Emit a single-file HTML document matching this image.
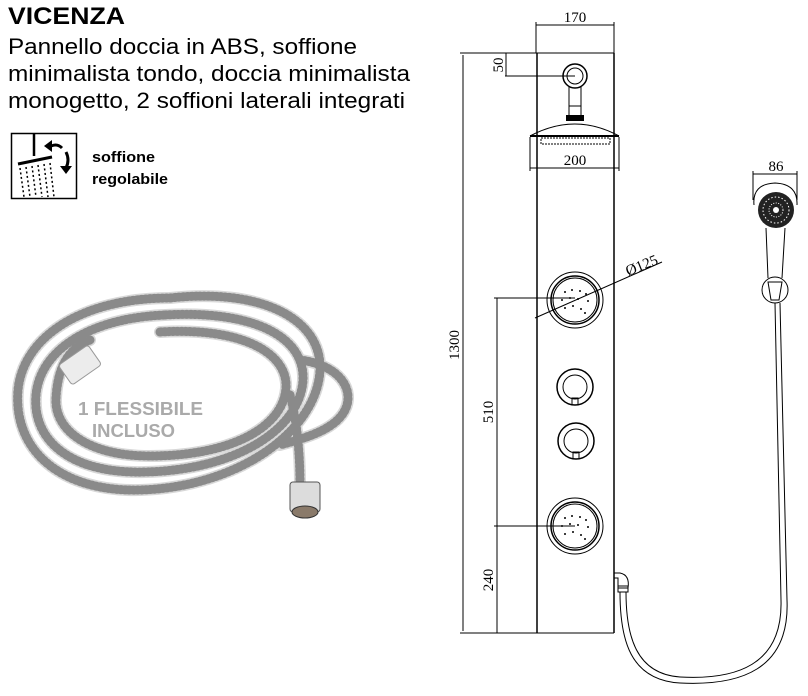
<!DOCTYPE html>
<html><head><meta charset="utf-8"><style>
html,body{margin:0;padding:0;background:#fff;width:808px;height:696px;overflow:hidden}
svg{display:block}
.t{font-family:"Liberation Sans",Arial,sans-serif}
.s{font-family:"Liberation Serif","Times New Roman",serif;font-size:15px}
</style></head><body>
<svg width="808" height="696" viewBox="0 0 808 696" xmlns="http://www.w3.org/2000/svg">
<text class="t" x="8" y="24" font-size="24" font-weight="bold" textLength="117" lengthAdjust="spacingAndGlyphs">VICENZA</text>
<text class="t" x="8" y="54" font-size="22" textLength="349" lengthAdjust="spacingAndGlyphs">Pannello doccia in ABS, soffione</text>
<text class="t" x="8" y="81" font-size="22" textLength="402" lengthAdjust="spacingAndGlyphs">minimalista tondo, doccia minimalista</text>
<text class="t" x="8" y="108" font-size="22" textLength="397" lengthAdjust="spacingAndGlyphs">monogetto, 2 soffioni laterali integrati</text>
<rect x="11.5" y="133.5" width="65" height="65" fill="none" stroke="#000" stroke-width="1.5"/>
<line x1="34" y1="134" x2="34" y2="156" stroke="#000" stroke-width="2.5"/>
<line x1="18" y1="164" x2="52" y2="157" stroke="#000" stroke-width="3"/>
<g stroke="#000" stroke-width="1.5" stroke-dasharray="2 2.5">
<line x1="20" y1="168" x2="24" y2="197"/><line x1="26" y1="167" x2="30" y2="197"/>
<line x1="32" y1="166" x2="36" y2="197"/><line x1="38" y1="165" x2="42" y2="197"/>
<line x1="44" y1="164" x2="48" y2="197"/><line x1="50" y1="163" x2="54" y2="197"/>
</g>
<path d="M48 148 Q56 142 62 148" fill="none" stroke="#000" stroke-width="3"/>
<polygon points="44,146 52,140 52,152" fill="#000"/>
<path d="M66 152 Q70 160 66 168" fill="none" stroke="#000" stroke-width="3"/>
<polygon points="60,166 72,166 66,174" fill="#000"/>
<text class="t" x="92" y="162" font-size="15" font-weight="bold" textLength="63" lengthAdjust="spacingAndGlyphs">soffione</text>
<text class="t" x="92" y="184" font-size="15" font-weight="bold" textLength="76" lengthAdjust="spacingAndGlyphs">regolabile</text>
<g fill="none" stroke-linecap="round">
<g stroke="#d8d8d8" stroke-width="12">
<path d="M170 298 C260 288 322 318 320 370 C317 430 240 487 140 490 C60 492 13 450 18 390 C23 338 80 298 170 298"/>
<path d="M165 315 C250 310 305 335 303 380 C300 430 235 470 145 472 C70 474 32 440 36 395 C40 350 90 318 165 315"/>
<path d="M160 332 C240 327 288 352 286 388 C283 428 230 456 150 456 C88 456 54 430 56 398 C58 362 72 347 90 340"/>
<path d="M300 360 C340 365 355 390 345 410 C335 430 305 438 280 445"/>
<path d="M290 395 C298 425 300 460 300 485"/>
</g>
<g stroke="#8a8a8a" stroke-width="9" stroke-dasharray="1.2 3">
<path d="M170 298 C260 288 322 318 320 370 C317 430 240 487 140 490 C60 492 13 450 18 390 C23 338 80 298 170 298"/>
<path d="M165 315 C250 310 305 335 303 380 C300 430 235 470 145 472 C70 474 32 440 36 395 C40 350 90 318 165 315"/>
<path d="M160 332 C240 327 288 352 286 388 C283 428 230 456 150 456 C88 456 54 430 56 398 C58 362 72 347 90 340"/>
<path d="M300 360 C340 365 355 390 345 410 C335 430 305 438 280 445"/>
<path d="M290 395 C298 425 300 460 300 485"/>
</g>
</g>
<rect x="62" y="353" width="36" height="24" rx="3" fill="#ececec" stroke="#999" transform="rotate(-35 80 365)"/>
<rect x="290" y="482" width="30" height="30" rx="3" fill="#dcdcdc" stroke="#555"/>
<ellipse cx="305" cy="512" rx="13" ry="6" fill="#8a7a6a" stroke="#333"/>
<text class="t" x="78" y="415" font-size="18" font-weight="bold" fill="#aaa" textLength="125" lengthAdjust="spacingAndGlyphs">1 FLESSIBILE</text>
<text class="t" x="92" y="437" font-size="18" font-weight="bold" fill="#aaa" textLength="83" lengthAdjust="spacingAndGlyphs">INCLUSO</text>

<g stroke="#000" fill="none" stroke-width="1">
<line x1="537" y1="53" x2="537" y2="633" stroke-width="1.5"/>
<line x1="614" y1="53" x2="614" y2="633" stroke-width="1.5"/>
<line x1="460" y1="53" x2="614" y2="53"/>
<line x1="460" y1="633" x2="614" y2="633"/>
<line x1="536" y1="22" x2="536" y2="53"/><line x1="614" y1="22" x2="614" y2="53"/>
<line x1="536" y1="25" x2="614" y2="25"/>
<line x1="463" y1="55" x2="463" y2="631"/>
<line x1="506" y1="53" x2="506" y2="76"/>
<line x1="505" y1="76" x2="575" y2="76"/>
<circle cx="575" cy="76" r="12" stroke-width="1.5"/>
<circle cx="575" cy="76" r="8"/>
<path d="M569 86 V115 M581 86 V115 M569 106 H581"/>
<path d="M530 136 Q575 112 619 136"/>
<line x1="530" y1="136" x2="619" y2="136" stroke-width="2"/>
<rect x="541" y="138" width="69" height="6" stroke-dasharray="2 1"/>
<line x1="530" y1="137" x2="530" y2="171"/><line x1="619" y1="137" x2="619" y2="171"/>
<line x1="530" y1="168" x2="619" y2="168"/>
<circle cx="575" cy="300" r="28"/><circle cx="575" cy="300" r="24" stroke-width="1.5"/><circle cx="575" cy="300" r="22"/>
<line x1="535" y1="318" x2="662" y2="262"/>
<line x1="494" y1="298" x2="575" y2="298"/>
<line x1="497" y1="298" x2="497" y2="633"/>
<circle cx="575" cy="387" r="18" stroke-width="1.5"/><circle cx="575" cy="387" r="12"/>
<rect x="572" y="398" width="6" height="7"/>
<circle cx="576" cy="441" r="18" stroke-width="1.5"/><circle cx="576" cy="441" r="12"/>
<rect x="573" y="452" width="6" height="7"/>
<circle cx="575" cy="526" r="28"/><circle cx="575" cy="526" r="24" stroke-width="1.5"/><circle cx="575" cy="526" r="22"/>
<line x1="494" y1="526" x2="575" y2="526"/>
<path d="M614 573 H620 Q630 575 628 588 H618 V578 H614" />
<rect x="618" y="586" width="10" height="6"/>
<path d="M620 592 C620 640 630 680 680 683 C740 686 790 670 787 600 L780 303"/>
<path d="M626 592 C626 636 636 674 680 677 C735 680 783 666 781 600 L775 303"/>
<line x1="753" y1="171" x2="753" y2="200"/><line x1="797" y1="171" x2="797" y2="200"/>
<line x1="753" y1="174" x2="797" y2="174"/>
<path d="M754 205 Q752 184 775 183 Q798 184 797 205"/>
<path d="M766 228 L768 278 M785 228 L782 278"/>
<circle cx="775" cy="290" r="13"/>
<path d="M768 282 H782 L779 300 H771 Z"/>
</g>
<circle cx="776" cy="210" r="18" fill="#222"/>
<circle cx="776" cy="210" r="13" fill="none" stroke="#fff" stroke-width="1" stroke-dasharray="1.5 2"/>
<circle cx="776" cy="210" r="7" fill="none" stroke="#fff" stroke-width="1" stroke-dasharray="1 1.5"/>
<circle cx="776" cy="210" r="3" fill="#fff"/>
<rect x="566" y="115" width="18" height="6" fill="#000"/>
<g fill="#000">
<circle cx="565" cy="292" r="1"/><circle cx="572" cy="290" r="1"/><circle cx="580" cy="291" r="1"/><circle cx="586" cy="294" r="1"/>
<circle cx="562" cy="300" r="1"/><circle cx="570" cy="298" r="1"/><circle cx="578" cy="299" r="1"/><circle cx="588" cy="301" r="1"/>
<circle cx="565" cy="308" r="1"/><circle cx="573" cy="306" r="1"/><circle cx="581" cy="309" r="1"/><circle cx="585" cy="313" r="1"/>
<circle cx="565" cy="518" r="1"/><circle cx="572" cy="516" r="1"/><circle cx="580" cy="517" r="1"/><circle cx="586" cy="520" r="1"/>
<circle cx="562" cy="526" r="1"/><circle cx="570" cy="524" r="1"/><circle cx="578" cy="525" r="1"/><circle cx="588" cy="527" r="1"/>
<circle cx="565" cy="534" r="1"/><circle cx="573" cy="532" r="1"/><circle cx="581" cy="535" r="1"/><circle cx="585" cy="539" r="1"/>
</g>
<text class="s" x="575" y="22" text-anchor="middle">170</text>
<text class="s" x="575" y="165" text-anchor="middle">200</text>
<text class="s" x="776" y="171" text-anchor="middle">86</text>
<text class="s" transform="translate(503 65) rotate(-90)" text-anchor="middle">50</text>
<text class="s" transform="translate(459 345) rotate(-90)" text-anchor="middle">1300</text>
<text class="s" transform="translate(493 412) rotate(-90)" text-anchor="middle">510</text>
<text class="s" transform="translate(493 580) rotate(-90)" text-anchor="middle">240</text>
<text class="s" transform="translate(628 276) rotate(-22)">Ø125</text>
</svg>
</body></html>
